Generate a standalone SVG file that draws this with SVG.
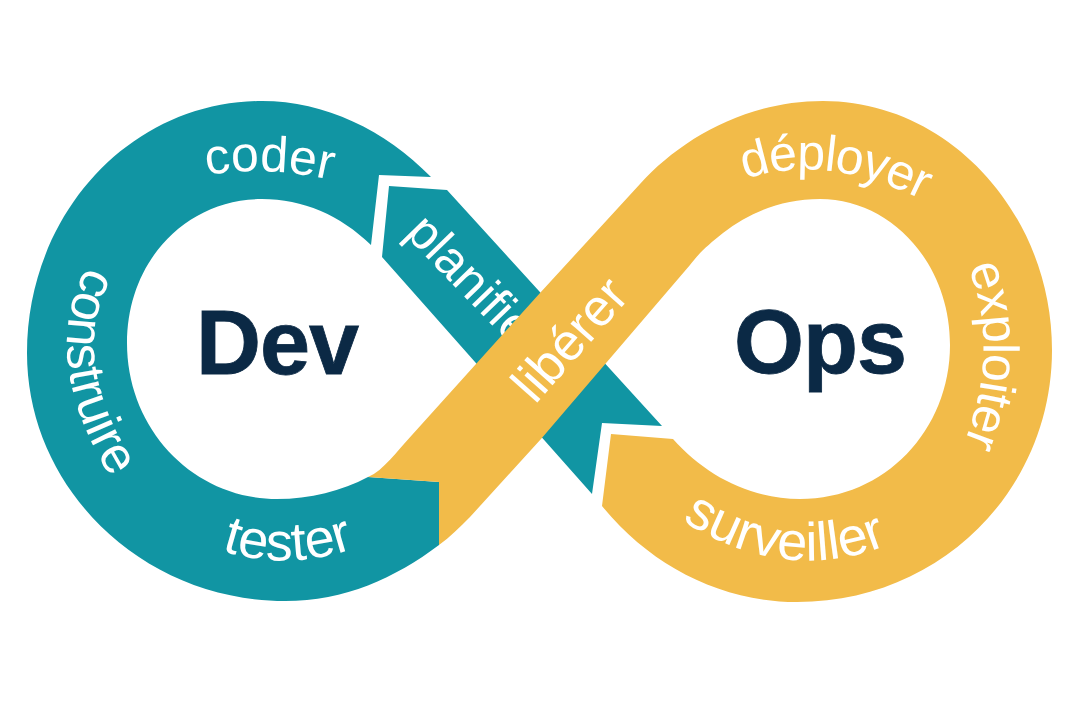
<svg xmlns="http://www.w3.org/2000/svg" width="1080" height="720" viewBox="0 0 1080 720">
<style>
.teal{fill:#1195a3}.gold{fill:#f2bb49}
.lbl{font-family:"Liberation Sans",Arial,sans-serif;font-size:52px;fill:#fff}
.big{font-family:"Liberation Sans",Arial,sans-serif;font-size:90px;font-weight:700;fill:#0b2945;stroke:#0b2945;stroke-width:.8;text-anchor:middle;letter-spacing:-1px}
</style>
<defs>
<path id="p-coder" d="M203 176Q265 164 335 181"/>
<path id="p-construire" d="M92 258Q32 355 116 486"/>
<path id="p-tester" d="M220 550Q285 572 356 548"/>
<path id="p-deployer" d="M740 181Q825 150 926 202"/>
<path id="p-exploiter" d="M966 262Q1003 350 962 448"/>
<path id="p-surveiller" d="M678 518Q785 588 892 543"/>
</defs>
<rect width="1080" height="720" fill="#fff"/>
<g id="dev-loop">
<path class="teal" d="M431 177C385 130 325 101 262 101C130 101 27 215 27 353C27 489 143 601 285 601C345 601 395 578 439 545L439 482L368 477C342 491 310 499 277 499C194 499 127 430 127 343C127 262 185 199 262 199C303 199 340 215 371 245L379 175Z"/>
<path class="teal" d="M389 186L447 190L662 426L602 423L592 494L382 257Z"/>
<text class="lbl" style="font-size:50px"><textPath href="#p-coder" startOffset="50%" text-anchor="middle">coder</textPath></text>
<text class="lbl" style="font-size:51px"><textPath href="#p-construire" startOffset="50%" text-anchor="middle">construire</textPath></text>
<text class="lbl" style="font-size:54px"><textPath href="#p-tester" startOffset="50%" text-anchor="middle">tester</textPath></text>
<text class="lbl" style="font-size:50px" transform="translate(404 234) rotate(46)">planifie</text>
<text class="big" x="277" y="374">Dev</text>
</g>
<g id="ops-loop">
<path class="gold" d="M611 434L673 439C705 475 750 499 800 499C885 499 950 430 950 345C950 262 890 199 820 199C782 199 750 212 723 233C708 245 700 252 690 265L541 439L470 517C460 527 450 537 439 545L439 482L368 477C384 470 396 452 412 435L540 293L640 184C680 140 745 101 823 101C950 101 1052 215 1052 350C1052 490 940 602 797 602C720 602 650 565 602 506Z"/>
<text class="lbl" transform="translate(535 405) rotate(-48.5)">libérer</text>
<text class="lbl" style="font-size:50px;letter-spacing:-1.2px"><textPath href="#p-deployer" startOffset="50%" text-anchor="middle">déployer</textPath></text>
<text class="lbl" style="font-size:50px;letter-spacing:-1px"><textPath href="#p-exploiter" startOffset="50%" text-anchor="middle">exploiter</textPath></text>
<text class="lbl" style="font-size:54px"><textPath href="#p-surveiller" startOffset="50%" text-anchor="middle">surveiller</textPath></text>
<text class="big" x="820" y="373">Ops</text>
</g>
</svg>
